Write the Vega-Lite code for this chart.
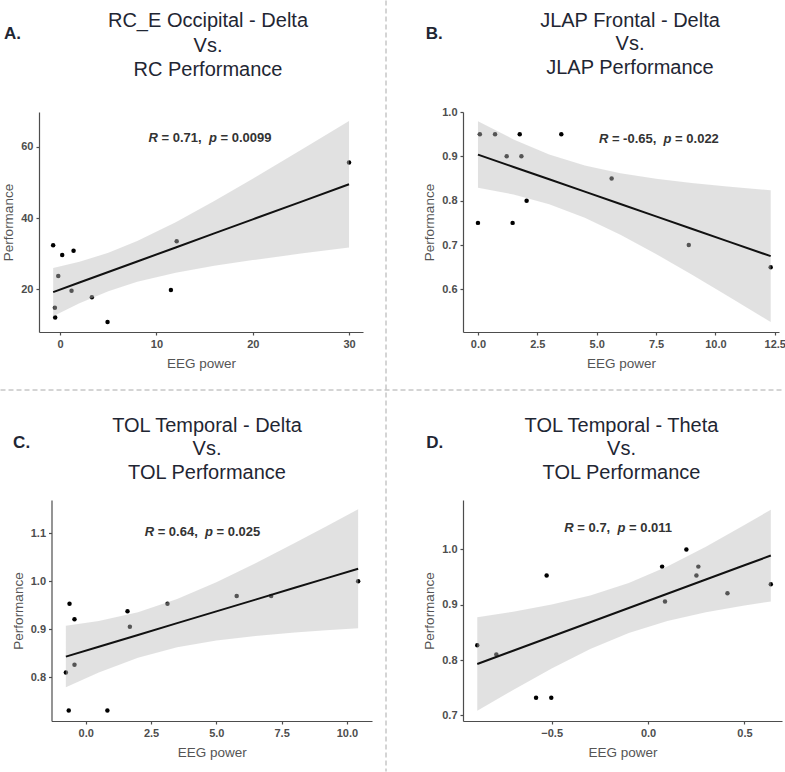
{
  "$schema": "https://vega.github.io/schema/vega-lite/v6.json",
  "padding": 0,
  "background": "white",
  "datasets": {
    "ptsA": [{"x": -0.73, "y": 32.4}, {"x": 0.21, "y": 29.6}, {"x": 1.39, "y": 30.8}, {"x": -0.2, "y": 23.7}, {"x": 1.18, "y": 19.6}, {"x": 3.29, "y": 17.75}, {"x": -0.55, "y": 14.8}, {"x": -0.52, "y": 12.1}, {"x": 4.92, "y": 10.8}, {"x": 11.5, "y": 19.8}, {"x": 12.1, "y": 33.5}, {"x": 30.0, "y": 55.6}],
    "bandA": [{"x": -0.73, "fit": 19.2, "lo": 12.45, "hi": 25.95}, {"x": 2, "fit": 21.89, "lo": 16.07, "hi": 27.71}, {"x": 5, "fit": 24.85, "lo": 19.45, "hi": 30.25}, {"x": 8, "fit": 27.81, "lo": 22.09, "hi": 33.53}, {"x": 12, "fit": 31.75, "lo": 24.64, "hi": 38.86}, {"x": 16, "fit": 35.7, "lo": 26.58, "hi": 44.82}, {"x": 20, "fit": 39.64, "lo": 28.2, "hi": 51.08}, {"x": 25, "fit": 44.57, "lo": 30.03, "hi": 59.11}, {"x": 30, "fit": 49.5, "lo": 31.75, "hi": 67.25}],
    "statA": [{"x": 15.56, "y": 62.4, "r": "R", "mid": "=\u00a00.71,", "p": "p", "tail": "=\u00a00.0099"}],
    "ptsB": [{"x": 0, "y": 0.75}, {"x": 0.08, "y": 0.95}, {"x": 0.72, "y": 0.95}, {"x": 1.21, "y": 0.9}, {"x": 1.46, "y": 0.75}, {"x": 1.76, "y": 0.95}, {"x": 1.83, "y": 0.9}, {"x": 2.05, "y": 0.8}, {"x": 3.51, "y": 0.95}, {"x": 5.63, "y": 0.85}, {"x": 8.88, "y": 0.7}, {"x": 12.33, "y": 0.65}],
    "bandB": [{"x": 0, "fit": 0.904, "lo": 0.829, "hi": 0.979}, {"x": 1.5, "fit": 0.8761, "lo": 0.814, "hi": 0.9382}, {"x": 3, "fit": 0.8483, "lo": 0.7923, "hi": 0.9043}, {"x": 4.5, "fit": 0.8204, "lo": 0.7616, "hi": 0.8792}, {"x": 6, "fit": 0.7926, "lo": 0.7232, "hi": 0.862}, {"x": 7.5, "fit": 0.7647, "lo": 0.6797, "hi": 0.8497}, {"x": 9, "fit": 0.7369, "lo": 0.6336, "hi": 0.8402}, {"x": 10.5, "fit": 0.709, "lo": 0.5859, "hi": 0.8321}, {"x": 12.33, "fit": 0.675, "lo": 0.5265, "hi": 0.8235}],
    "statB": [{"x": 7.62, "y": 0.94, "r": "R", "mid": "=\u00a0-0.65,", "p": "p", "tail": "=\u00a00.022"}],
    "ptsC": [{"x": -0.76, "y": 0.81}, {"x": -0.62, "y": 0.953}, {"x": -0.43, "y": 0.921}, {"x": -0.43, "y": 0.826}, {"x": -0.65, "y": 0.731}, {"x": 0.83, "y": 0.731}, {"x": 1.6, "y": 0.9375}, {"x": 1.69, "y": 0.905}, {"x": 3.13, "y": 0.953}, {"x": 5.78, "y": 0.969}, {"x": 7.1, "y": 0.969}, {"x": 10.43, "y": 1.0}],
    "bandC": [{"x": -0.76, "fit": 0.843, "lo": 0.779, "hi": 0.907}, {"x": 0.5, "fit": 0.8636, "lo": 0.81, "hi": 0.9172}, {"x": 2, "fit": 0.8881, "lo": 0.8408, "hi": 0.9355}, {"x": 3.5, "fit": 0.9127, "lo": 0.8626, "hi": 0.9628}, {"x": 5, "fit": 0.9372, "lo": 0.8766, "hi": 0.9978}, {"x": 6.5, "fit": 0.9617, "lo": 0.886, "hi": 1.0374}, {"x": 8, "fit": 0.9863, "lo": 0.8931, "hi": 1.0795}, {"x": 9.2, "fit": 1.0059, "lo": 0.8978, "hi": 1.114}, {"x": 10.43, "fit": 1.026, "lo": 0.902, "hi": 1.15}],
    "statC": [{"x": 4.47, "y": 1.102, "r": "R", "mid": "=\u00a00.64,", "p": "p", "tail": "=\u00a00.025"}],
    "ptsD": [{"x": -0.886, "y": 0.827}, {"x": -0.787, "y": 0.81}, {"x": -0.581, "y": 0.732}, {"x": -0.502, "y": 0.732}, {"x": -0.526, "y": 0.953}, {"x": 0.073, "y": 0.969}, {"x": 0.088, "y": 0.906}, {"x": 0.199, "y": 1.0}, {"x": 0.251, "y": 0.953}, {"x": 0.261, "y": 0.969}, {"x": 0.412, "y": 0.921}, {"x": 0.637, "y": 0.937}],
    "bandD": [{"x": -0.886, "fit": 0.793, "lo": 0.7084, "hi": 0.8776}, {"x": -0.7, "fit": 0.8169, "lo": 0.7462, "hi": 0.8876}, {"x": -0.5, "fit": 0.8427, "lo": 0.785, "hi": 0.9004}, {"x": -0.3, "fit": 0.8684, "lo": 0.8199, "hi": 0.9169}, {"x": -0.1, "fit": 0.8942, "lo": 0.8489, "hi": 0.9395}, {"x": 0.1, "fit": 0.9199, "lo": 0.8705, "hi": 0.9693}, {"x": 0.3, "fit": 0.9457, "lo": 0.8864, "hi": 1.005}, {"x": 0.5, "fit": 0.9714, "lo": 0.8988, "hi": 1.044}, {"x": 0.637, "fit": 0.989, "lo": 0.9061, "hi": 1.0719}],
    "statD": [{"x": -0.153, "y": 1.0388, "r": "R", "mid": "=\u00a00.7,", "p": "p", "tail": "=\u00a00.011"}]
  },
  "config": {
    "view": {"stroke": null},
    "font": "Liberation Sans",
    "axis": {"grid": false, "domainColor": "#4d4d4d", "domainWidth": 1.2, "tickColor": "#4d4d4d", "tickSize": 3, "tickWidth": 1.2, "labelColor": "#4d4d4d", "labelFont": "Liberation Sans", "labelFontSize": 11, "labelFontWeight": "bold", "labelPadding": 3, "labelFlush": false, "labelOverlap": false, "titleFont": "Liberation Sans", "titleFontSize": 13.5, "titleFontWeight": "normal", "titleColor": "#555555"},
    "axisX": {"titlePadding": 7},
    "axisY": {"titlePadding": 5},
    "text": {"font": "Liberation Sans"}
  },
  "columns": 2,
  "align": "none",
  "bounds": "flush",
  "spacing": {"row": 168, "column": 91},
  "concat": [
    {
      "width": 324, "height": 220,
      "layer": [
        {"data": {"name": "ptsA"}, "mark": {"type": "point", "filled": true, "size": 20, "color": "black", "opacity": 1},
         "encoding": {"x": {"field": "x", "type": "quantitative", "title": "EEG power", "scale": {"domain": [-2.2, 31.45], "nice": false, "zero": false}, "axis": {"values": [0, 10, 20, 30]}},
                      "y": {"field": "y", "type": "quantitative", "title": "Performance", "scale": {"domain": [8.0, 69.8], "nice": false, "zero": false}, "axis": {"values": [20, 40, 60]}}}},
        {"data": {"name": "bandA"}, "mark": {"type": "area", "color": "#bdbdbd", "opacity": 0.45},
         "encoding": {"x": {"field": "x", "type": "quantitative", "title": "EEG power"}, "y": {"field": "lo", "type": "quantitative", "title": "Performance"}, "y2": {"field": "hi"}}},
        {"data": {"name": "bandA"}, "mark": {"type": "line", "color": "#111111", "strokeWidth": 2},
         "encoding": {"x": {"field": "x", "type": "quantitative", "title": "EEG power"}, "y": {"field": "fit", "type": "quantitative", "title": "Performance"}}},
        {"data": {"name": "statA"}, "mark": {"type": "text", "fontWeight": "bold", "fontStyle": "italic", "fontSize": 13, "color": "#333333", "baseline": "middle", "align": "left", "dx": -61.43},
         "encoding": {"x": {"field": "x", "type": "quantitative", "title": "EEG power"}, "y": {"field": "y", "type": "quantitative", "title": "Performance"}, "text": {"field": "r"}}},
        {"data": {"name": "statA"}, "mark": {"type": "text", "fontWeight": "bold", "fontSize": 13, "color": "#333333", "baseline": "middle", "align": "left", "dx": -48.43},
         "encoding": {"x": {"field": "x", "type": "quantitative", "title": "EEG power"}, "y": {"field": "y", "type": "quantitative", "title": "Performance"}, "text": {"field": "mid"}}},
        {"data": {"name": "statA"}, "mark": {"type": "text", "fontWeight": "bold", "fontStyle": "italic", "fontSize": 13, "color": "#333333", "baseline": "middle", "align": "left", "dx": -1.08},
         "encoding": {"x": {"field": "x", "type": "quantitative", "title": "EEG power"}, "y": {"field": "y", "type": "quantitative", "title": "Performance"}, "text": {"field": "p"}}},
        {"data": {"name": "statA"}, "mark": {"type": "text", "fontWeight": "bold", "fontSize": 13, "color": "#333333", "baseline": "middle", "align": "left", "dx": 10.47},
         "encoding": {"x": {"field": "x", "type": "quantitative", "title": "EEG power"}, "y": {"field": "y", "type": "quantitative", "title": "Performance"}, "text": {"field": "tail"}}},
        {"data": {"values": [{"label": "A."}]}, "mark": {"type": "text", "fontWeight": "bold", "fontSize": 17, "color": "#1f2633", "align": "left", "baseline": "alphabetic"},
         "encoding": {"x": {"value": -35}, "y": {"value": -72.7}, "text": {"field": "label"}}},
        {"data": {"values": [{"t": ["RC_E Occipital - Delta", "Vs.", "RC Performance"]}]}, "mark": {"type": "text", "fontSize": 20, "color": "#1f2633", "align": "center", "baseline": "alphabetic", "lineHeight": 24.4},
         "encoding": {"x": {"value": 169}, "y": {"value": -84.7}, "text": {"field": "t"}}},
        {"data": {"values": [{}]}, "mark": {"type": "rule", "color": "#aaaaaa", "strokeWidth": 1, "strokeDash": [5, 3]},
         "encoding": {"x": {"value": 347}, "y": {"value": -111.5}, "y2": {"value": 659.5}}},
        {"data": {"values": [{}]}, "mark": {"type": "rule", "color": "#aaaaaa", "strokeWidth": 1, "strokeDash": [5, 3]},
         "encoding": {"x": {"value": -38.5}, "x2": {"value": 745.5}, "y": {"value": 278}}}
      ]
    },
    {
      "width": 316, "height": 220,
      "layer": [
        {"data": {"name": "ptsB"}, "mark": {"type": "point", "filled": true, "size": 20, "color": "black", "opacity": 1},
         "encoding": {"x": {"field": "x", "type": "quantitative", "title": "EEG power", "scale": {"domain": [-0.63, 12.68], "nice": false, "zero": false}, "axis": {"values": [0, 2.5, 5, 7.5, 10, 12.5], "format": ".1f"}},
                      "y": {"field": "y", "type": "quantitative", "title": "Performance", "scale": {"domain": [0.504, 1.0], "nice": false, "zero": false}, "axis": {"values": [0.6, 0.7, 0.8, 0.9, 1.0], "format": ".1f"}}}},
        {"data": {"name": "bandB"}, "mark": {"type": "area", "color": "#bdbdbd", "opacity": 0.45},
         "encoding": {"x": {"field": "x", "type": "quantitative", "title": "EEG power"}, "y": {"field": "lo", "type": "quantitative", "title": "Performance"}, "y2": {"field": "hi"}}},
        {"data": {"name": "bandB"}, "mark": {"type": "line", "color": "#111111", "strokeWidth": 2},
         "encoding": {"x": {"field": "x", "type": "quantitative", "title": "EEG power"}, "y": {"field": "fit", "type": "quantitative", "title": "Performance"}}},
        {"data": {"name": "statB"}, "mark": {"type": "text", "fontWeight": "bold", "fontStyle": "italic", "fontSize": 13, "color": "#333333", "baseline": "middle", "align": "left", "dx": -59.98},
         "encoding": {"x": {"field": "x", "type": "quantitative", "title": "EEG power"}, "y": {"field": "y", "type": "quantitative", "title": "Performance"}, "text": {"field": "r"}}},
        {"data": {"name": "statB"}, "mark": {"type": "text", "fontWeight": "bold", "fontSize": 13, "color": "#333333", "baseline": "middle", "align": "left", "dx": -46.98},
         "encoding": {"x": {"field": "x", "type": "quantitative", "title": "EEG power"}, "y": {"field": "y", "type": "quantitative", "title": "Performance"}, "text": {"field": "mid"}}},
        {"data": {"name": "statB"}, "mark": {"type": "text", "fontWeight": "bold", "fontStyle": "italic", "fontSize": 13, "color": "#333333", "baseline": "middle", "align": "left", "dx": 4.7},
         "encoding": {"x": {"field": "x", "type": "quantitative", "title": "EEG power"}, "y": {"field": "y", "type": "quantitative", "title": "Performance"}, "text": {"field": "p"}}},
        {"data": {"name": "statB"}, "mark": {"type": "text", "fontWeight": "bold", "fontSize": 13, "color": "#333333", "baseline": "middle", "align": "left", "dx": 16.25},
         "encoding": {"x": {"field": "x", "type": "quantitative", "title": "EEG power"}, "y": {"field": "y", "type": "quantitative", "title": "Performance"}, "text": {"field": "tail"}}},
        {"data": {"values": [{"label": "B."}]}, "mark": {"type": "text", "fontWeight": "bold", "fontSize": 17, "color": "#1f2633", "align": "left", "baseline": "alphabetic"},
         "encoding": {"x": {"value": -37.3}, "y": {"value": -72.7}, "text": {"field": "label"}}},
        {"data": {"values": [{"t": ["JLAP Frontal - Delta", "Vs.", "JLAP Performance"]}]}, "mark": {"type": "text", "fontSize": 20, "color": "#1f2633", "align": "center", "baseline": "alphabetic", "lineHeight": 23.7},
         "encoding": {"x": {"value": 167}, "y": {"value": -85.3}, "text": {"field": "t"}}}
      ]
    },
    {
      "width": 333, "height": 221,
      "layer": [
        {"data": {"name": "ptsC"}, "mark": {"type": "point", "filled": true, "size": 20, "color": "black", "opacity": 1},
         "encoding": {"x": {"field": "x", "type": "quantitative", "title": "EEG power", "scale": {"domain": [-1.31, 10.96], "range": [12.5, 333], "nice": false, "zero": false}, "axis": {"values": [0, 2.5, 5, 7.5, 10], "format": ".1f"}},
                      "y": {"field": "y", "type": "quantitative", "title": "Performance", "scale": {"domain": [0.709, 1.169], "nice": false, "zero": false}, "axis": {"values": [0.8, 0.9, 1.0, 1.1], "format": ".1f", "offset": -12.5}}}},
        {"data": {"name": "bandC"}, "mark": {"type": "area", "color": "#bdbdbd", "opacity": 0.45},
         "encoding": {"x": {"field": "x", "type": "quantitative", "title": "EEG power"}, "y": {"field": "lo", "type": "quantitative", "title": "Performance"}, "y2": {"field": "hi"}}},
        {"data": {"name": "bandC"}, "mark": {"type": "line", "color": "#111111", "strokeWidth": 2},
         "encoding": {"x": {"field": "x", "type": "quantitative", "title": "EEG power"}, "y": {"field": "fit", "type": "quantitative", "title": "Performance"}}},
        {"data": {"name": "statC"}, "mark": {"type": "text", "fontWeight": "bold", "fontStyle": "italic", "fontSize": 13, "color": "#333333", "baseline": "middle", "align": "left", "dx": -57.82},
         "encoding": {"x": {"field": "x", "type": "quantitative", "title": "EEG power"}, "y": {"field": "y", "type": "quantitative", "title": "Performance"}, "text": {"field": "r"}}},
        {"data": {"name": "statC"}, "mark": {"type": "text", "fontWeight": "bold", "fontSize": 13, "color": "#333333", "baseline": "middle", "align": "left", "dx": -44.82},
         "encoding": {"x": {"field": "x", "type": "quantitative", "title": "EEG power"}, "y": {"field": "y", "type": "quantitative", "title": "Performance"}, "text": {"field": "mid"}}},
        {"data": {"name": "statC"}, "mark": {"type": "text", "fontWeight": "bold", "fontStyle": "italic", "fontSize": 13, "color": "#333333", "baseline": "middle", "align": "left", "dx": 2.53},
         "encoding": {"x": {"field": "x", "type": "quantitative", "title": "EEG power"}, "y": {"field": "y", "type": "quantitative", "title": "Performance"}, "text": {"field": "p"}}},
        {"data": {"name": "statC"}, "mark": {"type": "text", "fontWeight": "bold", "fontSize": 13, "color": "#333333", "baseline": "middle", "align": "left", "dx": 14.08},
         "encoding": {"x": {"field": "x", "type": "quantitative", "title": "EEG power"}, "y": {"field": "y", "type": "quantitative", "title": "Performance"}, "text": {"field": "tail"}}},
        {"data": {"values": [{"label": "C."}]}, "mark": {"type": "text", "fontWeight": "bold", "fontSize": 17, "color": "#1f2633", "align": "left", "baseline": "alphabetic"},
         "encoding": {"x": {"value": -25.9}, "y": {"value": -52}, "text": {"field": "label"}}},
        {"data": {"values": [{"t": ["TOL Temporal - Delta", "Vs.", "TOL Performance"]}]}, "mark": {"type": "text", "fontSize": 20, "color": "#1f2633", "align": "center", "baseline": "alphabetic", "lineHeight": 23.8},
         "encoding": {"x": {"value": 168}, "y": {"value": -68.3}, "text": {"field": "t"}}}
      ]
    },
    {
      "width": 319, "height": 221,
      "layer": [
        {"data": {"name": "ptsD"}, "mark": {"type": "point", "filled": true, "size": 20, "color": "black", "opacity": 1},
         "encoding": {"x": {"field": "x", "type": "quantitative", "title": "EEG power", "scale": {"domain": [-0.96, 0.695], "nice": false, "zero": false}, "axis": {"values": [-0.5, 0, 0.5], "format": ".1f"}},
                      "y": {"field": "y", "type": "quantitative", "title": "Performance", "scale": {"domain": [0.69, 1.0894], "nice": false, "zero": false}, "axis": {"values": [0.7, 0.8, 0.9, 1.0], "format": ".1f"}}}},
        {"data": {"name": "bandD"}, "mark": {"type": "area", "color": "#bdbdbd", "opacity": 0.45},
         "encoding": {"x": {"field": "x", "type": "quantitative", "title": "EEG power"}, "y": {"field": "lo", "type": "quantitative", "title": "Performance"}, "y2": {"field": "hi"}}},
        {"data": {"name": "bandD"}, "mark": {"type": "line", "color": "#111111", "strokeWidth": 2},
         "encoding": {"x": {"field": "x", "type": "quantitative", "title": "EEG power"}, "y": {"field": "fit", "type": "quantitative", "title": "Performance"}}},
        {"data": {"name": "statD"}, "mark": {"type": "text", "fontWeight": "bold", "fontStyle": "italic", "fontSize": 13, "color": "#333333", "baseline": "middle", "align": "left", "dx": -54.2},
         "encoding": {"x": {"field": "x", "type": "quantitative", "title": "EEG power"}, "y": {"field": "y", "type": "quantitative", "title": "Performance"}, "text": {"field": "r"}}},
        {"data": {"name": "statD"}, "mark": {"type": "text", "fontWeight": "bold", "fontSize": 13, "color": "#333333", "baseline": "middle", "align": "left", "dx": -41.2},
         "encoding": {"x": {"field": "x", "type": "quantitative", "title": "EEG power"}, "y": {"field": "y", "type": "quantitative", "title": "Performance"}, "text": {"field": "mid"}}},
        {"data": {"name": "statD"}, "mark": {"type": "text", "fontWeight": "bold", "fontStyle": "italic", "fontSize": 13, "color": "#333333", "baseline": "middle", "align": "left", "dx": -1.08},
         "encoding": {"x": {"field": "x", "type": "quantitative", "title": "EEG power"}, "y": {"field": "y", "type": "quantitative", "title": "Performance"}, "text": {"field": "p"}}},
        {"data": {"name": "statD"}, "mark": {"type": "text", "fontWeight": "bold", "fontSize": 13, "color": "#333333", "baseline": "middle", "align": "left", "dx": 10.47},
         "encoding": {"x": {"field": "x", "type": "quantitative", "title": "EEG power"}, "y": {"field": "y", "type": "quantitative", "title": "Performance"}, "text": {"field": "tail"}}},
        {"data": {"values": [{"label": "D."}]}, "mark": {"type": "text", "fontWeight": "bold", "fontSize": 17, "color": "#1f2633", "align": "left", "baseline": "alphabetic"},
         "encoding": {"x": {"value": -36.7}, "y": {"value": -51.7}, "text": {"field": "label"}}},
        {"data": {"values": [{"t": ["TOL Temporal - Theta", "Vs.", "TOL Performance"]}]}, "mark": {"type": "text", "fontSize": 20, "color": "#1f2633", "align": "center", "baseline": "alphabetic", "lineHeight": 23.8},
         "encoding": {"x": {"value": 158.5}, "y": {"value": -68.3}, "text": {"field": "t"}}}
      ]
    }
  ]
}
